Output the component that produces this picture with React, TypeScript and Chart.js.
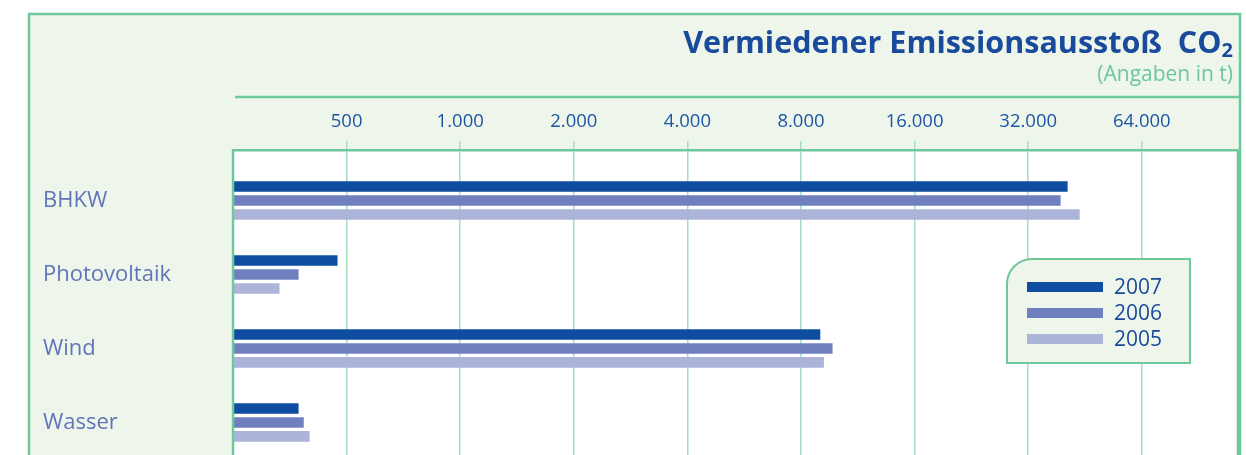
import React, { useEffect, useRef } from 'react';
import { Chart, registerables } from 'chart.js';

Chart.register(...registerables);

const categories = ['BHKW', 'Photovoltaik', 'Wind', 'Wasser'];
const seriesLabels = ['2007', '2006', '2005'];
const values2007 = [40700, 473, 9000, 373];
const values2006 = [39000, 373, 9700, 385];
const values2005 = [43800, 332, 9200, 399];
const tickValues = [500, 1000, 2000, 4000, 8000, 16000, 32000, 64000];
const tickLabels = ['500', '1.000', '2.000', '4.000', '8.000', '16.000', '32.000', '64.000'];
const titleText = 'Vermiedener Emissionsausstoß  CO';
const titleSub = '2';
const subtitleText = '(Angaben in t)';

const seriesColors = ['#0e4d9f', '#7080bf', '#adb4da'];
const GREEN = '#6fc89a';
const GRID = '#a5ddc0';
const FRAME_BG = '#eef6ec';
const DARK_BLUE = '#1a4a9c';
const LABEL_BLUE = '#6274b9';

const decorPlugin = {
  id: 'decor',
  beforeDraw(chart: any) {
    const { ctx, chartArea, width, height } = chart;
    ctx.save();
    ctx.fillStyle = '#ffffff';
    ctx.fillRect(0, 0, width, height);
    // outer frame
    ctx.fillStyle = FRAME_BG;
    ctx.fillRect(29, 14, 1211, height);
    ctx.strokeStyle = GREEN;
    ctx.lineWidth = 2.5;
    ctx.strokeRect(29, 14, 1211, height + 10);
    // header line
    ctx.beginPath();
    ctx.moveTo(235, 97);
    ctx.lineTo(1240, 97);
    ctx.stroke();
    // plot background
    ctx.fillStyle = '#ffffff';
    ctx.fillRect(chartArea.left, chartArea.top, chartArea.right - chartArea.left, height - chartArea.top);
    // title
    const right = 1233;
    ctx.textBaseline = 'alphabetic';
    ctx.textAlign = 'right';
    ctx.fillStyle = DARK_BLUE;
    ctx.font = 'bold 20px "Open Sans"';
    const subW = ctx.measureText(titleSub).width;
    ctx.fillText(titleSub, right, 57);
    ctx.font = 'bold 30.5px "Open Sans"';
    ctx.fillText(titleText, right - subW, 53);
    ctx.font = '21px "Open Sans"';
    ctx.fillStyle = '#6cc79a';
    ctx.fillText(subtitleText, right, 81);
    ctx.restore();
  },
  afterDraw(chart: any) {
    const { ctx, chartArea, height } = chart;
    ctx.save();
    ctx.strokeStyle = GREEN;
    ctx.lineWidth = 2.5;
    ctx.beginPath();
    ctx.moveTo(chartArea.left, chartArea.top);
    ctx.lineTo(chartArea.left, height + 5);
    ctx.moveTo(chartArea.right, chartArea.top);
    ctx.lineTo(chartArea.right, height + 5);
    ctx.stroke();
    // legend box
    const x0 = 1007, y0 = 259, x1 = 1190, y1 = 363, r = 25;
    ctx.beginPath();
    ctx.moveTo(x0 + r, y0);
    ctx.lineTo(x1, y0);
    ctx.lineTo(x1, y1);
    ctx.lineTo(x0, y1);
    ctx.lineTo(x0, y0 + r);
    ctx.arcTo(x0, y0, x0 + r, y0, r);
    ctx.closePath();
    ctx.fillStyle = FRAME_BG;
    ctx.fill();
    ctx.lineWidth = 2;
    ctx.stroke();
    ctx.font = '21px "Open Sans"';
    ctx.textAlign = 'left';
    ctx.textBaseline = 'middle';
    chart.data.datasets.forEach((ds: any, i: number) => {
      const cy = 287 + i * 26;
      ctx.fillStyle = ds.backgroundColor;
      ctx.fillRect(1027, cy - 5, 76, 10);
      ctx.fillStyle = DARK_BLUE;
      ctx.fillText(ds.label, 1114, cy + 1);
    });
    ctx.restore();
  },
};

export default function App() {
  const canvasRef = useRef<HTMLCanvasElement | null>(null);

  useEffect(() => {
    if (!canvasRef.current) return;
    const all = [values2007, values2006, values2005];
    const chart = new Chart(canvasRef.current, {
      type: 'bar',
      data: {
        datasets: all.map((vals, i) => ({
          label: seriesLabels[i],
          data: vals.map((v, j) => ({ x: v, y: j })),
          backgroundColor: seriesColors[i],
          borderWidth: 0,
          categoryPercentage: 0.567,
          barPercentage: 0.76,
        })),
      },
      options: {
        indexAxis: 'y',
        animation: false,
        responsive: false,
        maintainAspectRatio: false,
        layout: { padding: { left: 43, right: 8, top: 0, bottom: 0 } },
        plugins: {
          legend: { display: false },
          tooltip: { enabled: false },
          title: { display: false },
        },
        scales: {
          x: {
            type: 'logarithmic',
            position: 'top',
            min: 250,
            max: 115100,
            afterBuildTicks: (scale: any) => {
              scale.ticks = tickValues.map((v) => ({ value: v }));
            },
            afterFit: (scale: any) => {
              scale.height = 150;
              scale.paddingLeft = 0;
              scale.paddingRight = 0;
            },
            ticks: {
              autoSkip: false,
              maxRotation: 0,
              padding: 8,
              color: '#1d55a6',
              font: { family: '"Open Sans"', size: 18.5 },
              callback: (value: any) => {
                const idx = tickValues.indexOf(Number(value));
                return idx >= 0 ? tickLabels[idx] : '';
              },
            },
            grid: {
              color: GRID,
              lineWidth: 1.5,
              tickLength: 9,
              drawTicks: true,
            },
            border: { display: true, color: GREEN, width: 2.5 },
          },
          y: {
            type: 'linear',
            reverse: true,
            min: -0.682,
            max: 3.44,
            offset: false,
            afterFit: (scale: any) => {
              scale.width = 190;
              scale.paddingTop = 0;
              scale.paddingBottom = 0;
            },
            ticks: {
              stepSize: 1,
              includeBounds: false,
              crossAlign: 'far',
              color: LABEL_BLUE,
              font: { family: '"Open Sans"', size: 22 },
              callback: (value: any) => {
                const n = Number(value);
                return Number.isInteger(n) && categories[n] ? categories[n] : '';
              },
            },
            grid: { display: false, offset: false },
            border: { display: false },
          },
        },
      },
      plugins: [decorPlugin],
    } as any);
    return () => chart.destroy();
  }, []);

  return (
    <div style={{ position: 'fixed', left: 0, top: 0, width: 1246, height: 455 }}>
      <canvas ref={canvasRef} width={1246} height={455} style={{ width: 1246, height: 455, display: 'block' }} />
    </div>
  );
}
